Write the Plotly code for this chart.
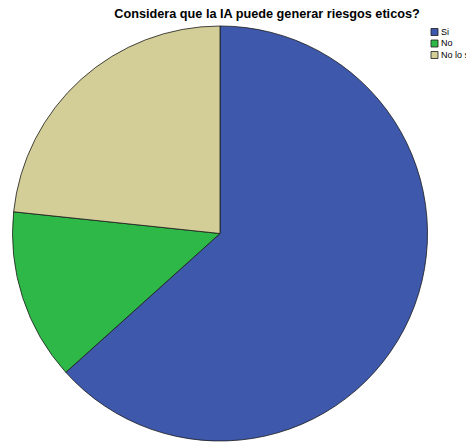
import plotly.graph_objects as go

labels = ["Si", "No", "No lo se"]
values = [19, 4, 7]
colors = ["#3E58AC", "#2EB848", "#D3CE98"]

# page body adds an 8px offset; figure drawn in screen coords minus offset
OFF = 8
W, H = 474 - OFF, 443 - OFF


def px(x):
    return (x - OFF) / W


def py(y):
    return 1 - (y - OFF) / H


fig = go.Figure(go.Pie(
    labels=labels,
    values=values,
    sort=False,
    direction="clockwise",
    rotation=0,
    textinfo="none",
    hoverinfo="label+value+percent",
    showlegend=False,
    marker=dict(colors=colors, line=dict(color="#1a1a1a", width=0.8)),
    domain=dict(x=[px(12), px(428)], y=[py(441), py(26)]),
))

# legend drawn as small squares + labels (as in the reference)
lx, ly0, step, sz = 431, 28.5, 11.5, 7
for i, (lab, col) in enumerate(zip(labels, colors)):
    yc = ly0 + i * step + sz / 2
    fig.add_shape(type="rect", xref="paper", yref="paper",
                  x0=px(lx), x1=px(lx + sz),
                  y0=py(yc - sz / 2), y1=py(yc + sz / 2),
                  fillcolor=col, line=dict(color="#1a1a1a", width=0.8))
    fig.add_annotation(xref="paper", yref="paper", x=px(lx + sz + 1), y=py(yc),
                       xanchor="left", yanchor="middle", showarrow=False, text=lab,
                       font=dict(family="Liberation Sans, Arial, sans-serif", size=9, color="#000000"))

fig.update_layout(
    width=W, height=H,
    margin=dict(l=0, r=0, t=0, b=0),
    paper_bgcolor="white",
    plot_bgcolor="white",
    title=dict(
        text="<b>Considera que la IA puede generar riesgos eticos?</b>",
        x=px(267), xanchor="center", y=py(14), yanchor="middle",
        font=dict(family="Liberation Sans, Arial, sans-serif", size=12.7, color="#000000"),
    ),
)

fig.write_html("out.html")
